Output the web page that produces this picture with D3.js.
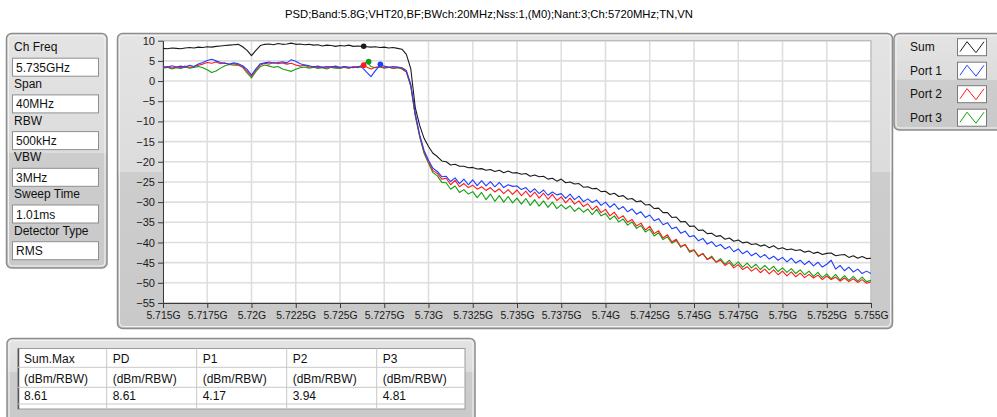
<!DOCTYPE html>
<html>
<head>
<meta charset="utf-8">
<script src="https://cdn.jsdelivr.net/npm/d3@7"></script>
<style>
body {margin: 0; background: #fff;}
svg {font-family: "Liberation Sans", Arial, sans-serif; display: block;}
</style>
</head>
<body>
<svg id="chart" width="997" height="417"></svg>
<script>
var title = "PSD;Band:5.8G;VHT20,BF;BWch:20MHz;Nss:1,(M0);Nant:3;Ch:5720MHz;TN,VN"

var settingLabels = ["Ch Freq", "Span", "RBW", "VBW", "Sweep Time", "Detector Type"]
var settingValues = ["5.735GHz", "40MHz", "500kHz", "3MHz", "1.01ms", "RMS"]

var seriesNames = ["Sum", "Port 1", "Port 2", "Port 3"]
var seriesColors = ["#1a1a1a", "#1f3fff", "#ff1a1a", "#12a012"]

var xTicks = [5.715, 5.7175, 5.72, 5.7225, 5.725, 5.7275, 5.73, 5.7325, 5.735, 5.7375, 5.74, 5.7425, 5.745, 5.7475, 5.75, 5.7525, 5.755]
var xTickLabels = ["5.715G", "5.7175G", "5.72G", "5.7225G", "5.725G", "5.7275G", "5.73G", "5.7325G", "5.735G", "5.7375G", "5.74G", "5.7425G", "5.745G", "5.7475G", "5.75G", "5.7525G", "5.755G"]
var yTicks = [10, 5, 0, -5, -10, -15, -20, -25, -30, -35, -40, -45, -50, -55]

// sweep points: 5.715 GHz + i * 0.25 MHz
var freqStart = 5.715
var freqStep = 0.00025

var sumDbm = [
  8.1, 8.0, 8.2, 8.1, 8.0, 8.2, 8.3, 8.2, 8.4, 8.3, 8.5, 8.4, 8.6, 8.7, 8.8, 8.9, 9.0, 9.1, 8.5, 7.6,
  6.3, 7.6, 8.8, 9.1, 9.2, 9.0, 9.3, 9.1, 9.2, 9.4, 9.1, 9.2, 9.0, 9.1, 8.9, 9.0, 8.7, 8.9, 8.8, 8.6,
  8.8, 8.7, 8.9, 8.6, 8.7, 8.6, 8.5, 8.4, 8.5, 8.3, 8.4, 8.2, 8.3, 8.1, 7.9, 6.6, 3.0, -6.5, -11.0, -14.2,
  -16.2, -17.9, -18.7, -19.8, -20.0, -20.8, -20.6, -21.1, -21.1, -21.5, -21.4, -21.8, -21.7, -22.1, -21.9, -22.4, -22.1, -22.7, -22.3, -22.8,
  -22.7, -23.1, -22.9, -23.6, -23.3, -23.7, -23.6, -24.3, -24.1, -24.8, -24.3, -25.2, -25.0, -25.5, -25.4, -26.3, -26.2, -26.7, -26.6, -27.4,
  -27.3, -28.1, -27.8, -28.6, -28.4, -29.3, -29.1, -29.9, -29.7, -30.7, -30.6, -31.6, -31.5, -32.6, -32.6, -33.8, -33.7, -34.9, -34.8, -36.0,
  -35.9, -37.0, -36.9, -37.8, -37.7, -38.5, -38.3, -39.2, -38.9, -39.7, -39.4, -40.1, -39.9, -40.5, -40.3, -40.9, -40.6, -41.3, -40.8, -41.6,
  -41.3, -41.8, -41.6, -42.0, -41.8, -42.4, -42.1, -42.7, -42.4, -43.0, -42.7, -42.6, -43.3, -43.1, -43.0, -43.7, -43.3, -43.9, -43.5, -44.0,
  -43.9
]

var port1Dbm = [
  3.6, 3.4, 3.8, 3.5, 3.7, 3.4, 3.9, 3.6, 4.2, 4.6, 5.1, 5.4, 5.0, 4.6, 4.4, 4.2, 4.5, 4.3, 3.8, 2.9,
  1.5, 3.0, 4.3, 4.5, 4.7, 4.4, 4.6, 4.8, 4.5, 5.3, 4.9, 4.3, 4.0, 3.8, 3.5, 3.7, 3.4, 3.6, 3.5, 3.7,
  3.4, 3.6, 3.5, 3.3, 3.6, 3.4, 2.2, 1.1, 2.6, 3.9, 3.7, 3.4, 3.6, 3.5, 3.3, 2.6, -0.8, -8.0, -13.3, -17.2,
  -19.6, -21.6, -22.4, -23.7, -23.6, -24.9, -24.0, -25.4, -24.3, -25.7, -24.5, -25.9, -24.7, -26.0, -24.9, -26.2, -25.1, -26.4, -25.7, -26.1,
  -26.0, -26.9, -26.4, -27.6, -26.7, -27.9, -27.0, -28.3, -27.5, -28.2, -27.9, -29.1, -28.0, -29.4, -28.5, -29.9, -29.2, -30.1, -29.5, -30.8,
  -30.0, -31.3, -30.4, -31.8, -31.1, -32.4, -31.7, -33.0, -32.4, -33.8, -33.2, -34.6, -34.1, -35.6, -35.1, -36.6, -36.2, -37.7, -37.2, -38.6,
  -38.3, -39.6, -39.0, -40.4, -39.8, -41.0, -40.5, -41.6, -41.0, -42.3, -41.6, -42.8, -42.1, -43.3, -42.6, -43.7, -43.0, -44.1, -43.4, -44.4,
  -43.7, -44.8, -43.9, -45.1, -44.4, -45.5, -44.6, -45.8, -44.9, -46.1, -45.4, -44.4, -46.6, -45.7, -47.0, -46.1, -47.3, -46.6, -47.7, -47.1,
  -47.7
]

var port2Dbm = [
  3.3, 3.6, 3.2, 3.5, 3.3, 3.7, 3.4, 3.6, 3.9, 4.2, 4.6, 4.4, 4.7, 4.3, 4.5, 4.1, 4.3, 4.0, 3.5, 2.4,
  1.2, 2.8, 4.0, 4.4, 4.2, 4.6, 4.3, 4.5, 4.2, 4.4, 4.0, 3.7, 3.9, 3.5, 3.6, 3.3, 3.5, 3.2, 3.6, 3.4,
  3.3, 3.5, 3.2, 3.6, 3.4, 3.9, 3.5, 3.0, 3.4, 3.6, 3.3, 3.5, 3.2, 3.4, 3.1, 2.3, -1.2, -8.4, -13.6, -17.6,
  -20.0, -22.2, -22.9, -24.3, -24.1, -25.7, -24.6, -26.2, -25.4, -26.4, -25.8, -26.8, -26.2, -27.1, -26.4, -27.5, -26.7, -27.9, -26.9, -28.1,
  -27.0, -28.4, -27.3, -28.7, -27.5, -29.0, -27.8, -29.3, -28.1, -29.6, -28.7, -30.2, -29.0, -30.5, -29.7, -31.1, -30.4, -31.9, -31.0, -32.6,
  -31.8, -33.4, -32.5, -34.1, -33.4, -35.0, -34.3, -35.9, -35.2, -36.9, -36.0, -37.8, -37.1, -38.9, -38.1, -39.9, -39.2, -41.0, -40.5, -42.1,
  -41.8, -43.3, -42.8, -44.2, -43.7, -44.9, -44.4, -45.7, -45.0, -46.3, -45.5, -46.7, -46.0, -47.1, -46.3, -47.5, -46.6, -47.8, -46.8, -48.0,
  -47.1, -48.3, -47.3, -48.5, -47.6, -48.7, -47.9, -48.8, -48.1, -49.2, -48.3, -49.2, -48.6, -49.6, -48.8, -49.7, -49.0, -49.9, -49.2, -50.1,
  -49.8
]

var port3Dbm = [
  3.2, 3.4, 3.0, 3.3, 3.1, 3.5, 3.2, 3.4, 3.6, 3.3, 2.8, 2.1, 2.5, 3.2, 3.8, 4.1, 3.9, 4.0, 3.4, 2.0,
  0.8, 2.4, 3.6, 4.0, 3.7, 3.4, 3.6, 3.0, 2.7, 2.4, 2.9, 3.3, 3.5, 3.2, 3.4, 3.1, 3.3, 3.0, 3.4, 3.2,
  3.1, 3.4, 3.2, 3.5, 3.3, 3.8, 4.8, 3.6, 3.3, 3.5, 3.2, 3.4, 3.1, 3.3, 3.0, 2.2, -1.4, -8.6, -13.8, -17.9,
  -20.4, -22.7, -23.5, -25.1, -25.2, -26.8, -26.0, -27.6, -26.9, -28.0, -27.4, -28.9, -27.6, -29.4, -28.0, -29.8, -28.4, -30.0, -28.6, -30.2,
  -29.0, -30.5, -29.1, -30.8, -29.4, -31.0, -29.7, -31.3, -30.0, -31.6, -30.6, -31.7, -30.9, -32.3, -31.4, -32.5, -31.7, -33.1, -31.8, -33.4,
  -32.8, -34.3, -33.4, -34.9, -34.2, -35.7, -34.9, -36.5, -35.8, -37.4, -36.7, -38.4, -37.6, -39.3, -38.6, -40.2, -39.5, -41.2, -40.5, -42.4,
  -41.9, -43.5, -42.7, -44.2, -43.4, -44.9, -44.0, -45.4, -44.4, -45.8, -44.8, -46.1, -45.1, -46.3, -45.4, -46.7, -45.7, -46.8, -45.9, -47.2,
  -46.3, -47.4, -46.5, -47.7, -46.8, -48.0, -47.1, -48.4, -47.4, -48.7, -47.8, -49.0, -47.9, -49.3, -48.2, -49.4, -48.4, -49.6, -48.6, -49.7,
  -49.4
]

// max markers (Sum, Port 1, Port 2, Port 3)
var markerFreq = [5.72634, 5.72728, 5.72634, 5.72662]
var markerDbm = [8.61, 4.17, 3.94, 4.81]

var tableHeaders = ["Sum.Max", "PD", "P1", "P2", "P3"]
var tableUnits = ["(dBm/RBW)", "(dBm/RBW)", "(dBm/RBW)", "(dBm/RBW)", "(dBm/RBW)"]
var tableValues = ["8.61", "8.61", "4.17", "3.94", "4.81"]

var svg = d3.select('#chart')
var defs = svg.append('defs')

// labview-like grey cluster with a lighter upper half
var panelCount = 0
function panel(x, y, w, h, split) {
  var id = 'pg' + (panelCount++)
  var grad = defs.append('linearGradient').attr('id', id)
      .attr('x1', 0).attr('y1', 0).attr('x2', 0).attr('y2', 1)
  grad.append('stop').attr('offset', 0).attr('stop-color', '#e4e4e4')
  grad.append('stop').attr('offset', split).attr('stop-color', '#dcdcdc')
  grad.append('stop').attr('offset', split).attr('stop-color', '#cdcdcd')
  grad.append('stop').attr('offset', 1).attr('stop-color', '#c9c9c9')
  svg.append('rect')
      .attr('x', x).attr('y', y).attr('width', w).attr('height', h)
      .attr('rx', 5)
      .attr('fill', 'url(#' + id + ')')
      .attr('stroke', '#8d8d8d').attr('stroke-width', 1.5)
  svg.append('rect')
      .attr('x', x + 2).attr('y', y + 2).attr('width', w - 4).attr('height', h - 4)
      .attr('rx', 4)
      .attr('fill', 'none')
      .attr('stroke', '#f2f2f2').attr('stroke-width', 1)
}

// title
svg.append('text')
    .attr('x', 489).attr('y', 18)
    .attr('text-anchor', 'middle')
    .attr('font-size', 11.5)
    .attr('textLength', 408)
    .attr('lengthAdjust', 'spacingAndGlyphs')
    .attr('fill', '#000')
    .text(title)

// ---- chart panel
panel(117.5, 33.5, 775, 295, 0.47)

var margin = {top: 40.7, left: 163, right: 871, bottom: 303}
var x = d3.scaleLinear().domain([5.715, 5.755]).range([margin.left, margin.right])
var y = d3.scaleLinear().domain([-55, 10]).range([margin.bottom, margin.top])

svg.append('rect')
    .attr('x', margin.left).attr('y', margin.top)
    .attr('width', margin.right - margin.left).attr('height', margin.bottom - margin.top)
    .attr('fill', '#fff')

var grid = svg.append('g')
grid.selectAll('.vgrid').data(xTicks).enter().append('line')
    .attr('x1', function(d) {return x(d)}).attr('x2', function(d) {return x(d)})
    .attr('y1', margin.top).attr('y2', margin.bottom)
    .attr('stroke', '#dedede').attr('stroke-width', 1.6)
grid.selectAll('.hgrid').data(yTicks).enter().append('line')
    .attr('x1', margin.left).attr('x2', margin.right)
    .attr('y1', function(d) {return y(d)}).attr('y2', function(d) {return y(d)})
    .attr('stroke', '#dedede').attr('stroke-width', 1.6)

svg.append('rect')
    .attr('x', margin.left).attr('y', margin.top)
    .attr('width', margin.right - margin.left).attr('height', margin.bottom - margin.top)
    .attr('fill', 'none').attr('stroke', '#b4b4b4').attr('stroke-width', 1)

// axes
var xAxis = svg.append('g')
    .attr('transform', 'translate(0,' + margin.bottom + ')')
    .call(d3.axisBottom(x).tickValues(xTicks).tickSize(5).tickSizeOuter(0)
      .tickFormat(function(d, i) {return xTickLabels[i]}))
var yAxis = svg.append('g')
    .attr('transform', 'translate(' + margin.left + ',0)')
    .call(d3.axisLeft(y).tickValues(yTicks).tickSize(5).tickSizeOuter(0).tickPadding(3))

;[xAxis, yAxis].forEach(function(a) {
  a.select('.domain').attr('stroke', '#3a3a3a')
  a.selectAll('.tick line').attr('stroke', '#3a3a3a')
  a.selectAll('.tick text')
      .attr('fill', '#1a1a1a')
      .attr('font-size', 11)
      .attr('font-family', '"Liberation Sans", Arial, sans-serif')
})
xAxis.selectAll('.tick text').attr('dy', '0.95em').attr('y', 6).attr('font-size', 10.4)

// traces
var traces = [sumDbm, port1Dbm, port2Dbm, port3Dbm].map(function(vals, k) {
  return {
    name: seriesNames[k],
    color: seriesColors[k],
    values: vals.map(function(v, i) {return {f: freqStart + i * freqStep, v: v}})
  }
})

var line = d3.line()
    .x(function(d) {return x(d.f)})
    .y(function(d) {return y(d.v)})

defs.append('clipPath').attr('id', 'plotclip').append('rect')
    .attr('x', margin.left).attr('y', margin.top)
    .attr('width', margin.right - margin.left).attr('height', margin.bottom - margin.top)

var plot = svg.append('g').attr('clip-path', 'url(#plotclip)')
// draw order: green, red, blue, black
plot.selectAll('.trace')
    .data([traces[3], traces[2], traces[1], traces[0]])
  .enter().append('path')
    .attr('class', 'trace')
    .attr('d', function(d) {return line(d.values)})
    .attr('fill', 'none')
    .attr('stroke', function(d) {return d.color})
    .attr('stroke-width', 1.1)
    .attr('stroke-linejoin', 'round')

plot.selectAll('.marker')
    .data(markerFreq.map(function(f, i) {return {f: f, v: markerDbm[i], color: seriesColors[i]}}))
  .enter().append('circle')
    .attr('cx', function(d) {return x(d.f)})
    .attr('cy', function(d) {return y(d.v)})
    .attr('r', 2.8)
    .attr('fill', function(d) {return d.color})

// ---- settings panel
panel(6.5, 33.5, 100.5, 234.5, 0.51)
settingLabels.forEach(function(lab, i) {
  var cy = 46.7 + i * 36.7
  svg.append('text')
      .attr('x', 14).attr('y', cy + 4.5)
      .attr('font-size', 12).attr('fill', '#111')
      .text(lab)
  svg.append('rect')
      .attr('x', 12.5).attr('y', cy + 11.5).attr('width', 86).attr('height', 18)
      .attr('fill', '#fff').attr('stroke', '#8f8f8f').attr('stroke-width', 1)
  svg.append('text')
      .attr('x', 16).attr('y', cy + 25)
      .attr('font-size', 12).attr('fill', '#111')
      .text(settingValues[i])
})

// ---- legend panel
panel(894, 33.5, 110, 96.5, 0.48)
seriesNames.forEach(function(name, i) {
  var cy = 46.7 + i * 23.5
  svg.append('text')
      .attr('x', 910).attr('y', cy + 4.5)
      .attr('font-size', 12).attr('fill', '#111')
      .text(name)
  svg.append('rect')
      .attr('x', 957.5).attr('y', cy - 8).attr('width', 29).attr('height', 17)
      .attr('fill', '#fff').attr('stroke', '#7a7a7a').attr('stroke-width', 1)
  svg.append('polyline')
      .attr('points', [[960, cy + 5], [967, cy - 5], [976, cy + 6], [984, cy - 5]].join(' '))
      .attr('fill', 'none')
      .attr('stroke', seriesColors[i]).attr('stroke-width', 1)
})

// ---- results table
panel(7, 338.5, 468, 85, 0.4)
var colX = [18, 106.7, 196.7, 286.7, 376.7, 465]
var rowY = [348.5, 367.3, 387.3, 404, 409]
svg.append('rect')
    .attr('x', colX[0]).attr('y', rowY[0])
    .attr('width', colX[5] - colX[0]).attr('height', rowY[4] - rowY[0])
    .attr('fill', '#fff').attr('stroke', '#9a9a9a').attr('stroke-width', 1)
svg.append('line')
    .attr('x1', colX[0] + 0.5).attr('x2', colX[0] + 0.5)
    .attr('y1', rowY[0]).attr('y2', rowY[4])
    .attr('stroke', '#555').attr('stroke-width', 1.5)
svg.selectAll('.rowline').data(rowY.slice(1, 4)).enter().append('line')
    .attr('x1', colX[0]).attr('x2', colX[5])
    .attr('y1', function(d) {return d}).attr('y2', function(d) {return d})
    .attr('stroke', '#c8c8c8').attr('stroke-width', 1)
svg.selectAll('.colline').data(colX.slice(1, 5)).enter().append('line')
    .attr('x1', function(d) {return d}).attr('x2', function(d) {return d})
    .attr('y1', rowY[0]).attr('y2', rowY[4])
    .attr('stroke', '#c8c8c8').attr('stroke-width', 1)
;[tableHeaders, tableUnits, tableValues].forEach(function(row, r) {
  row.forEach(function(txt, c) {
    svg.append('text')
        .attr('x', colX[c] + 6)
        .attr('y', [362.5, 382.5, 400][r])
        .attr('font-size', 12).attr('fill', '#111')
        .text(txt)
  })
})
</script>
</body>
</html>
